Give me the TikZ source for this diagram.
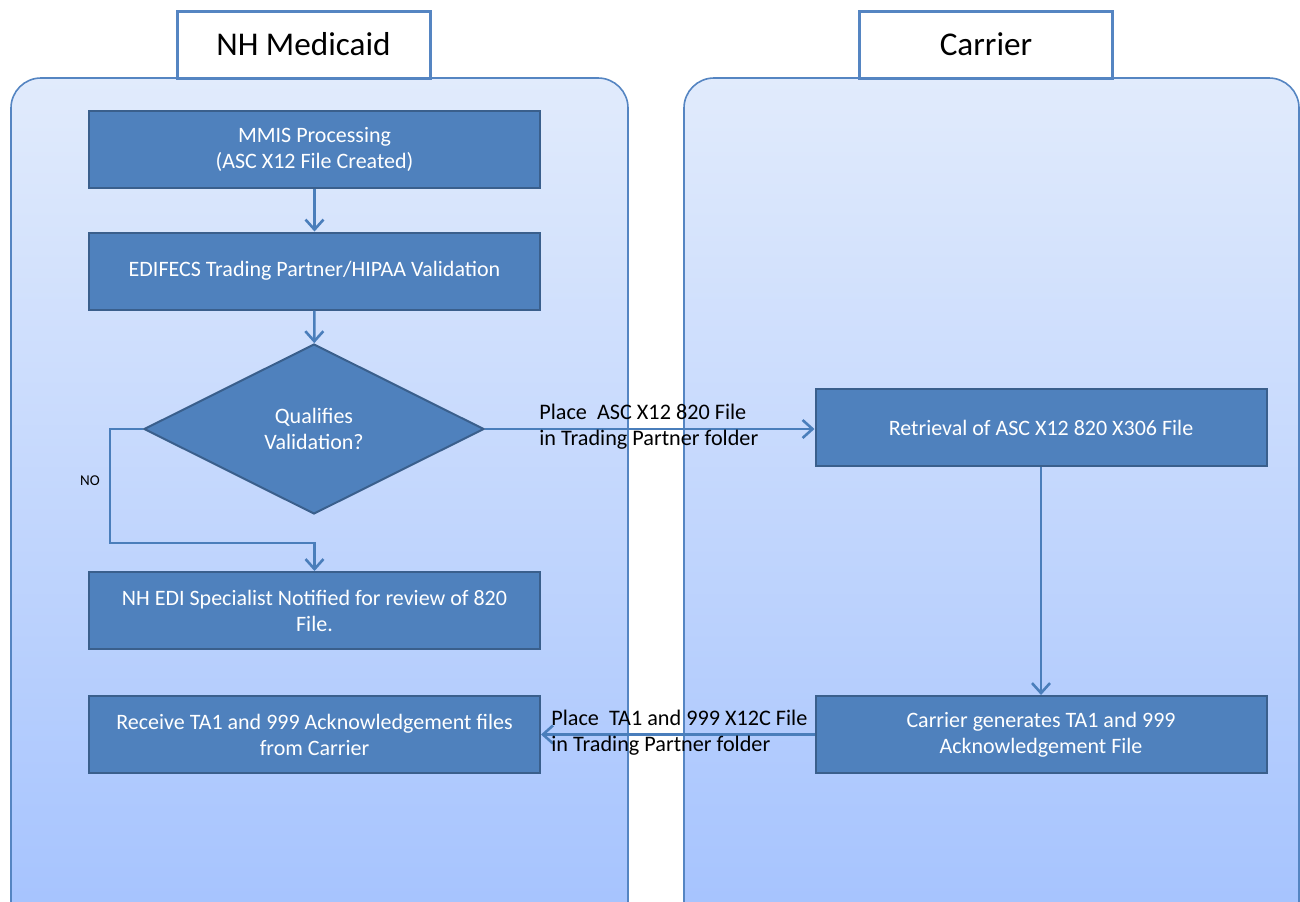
\documentclass[tikz,border=0pt]{standalone}
\usepackage{fontspec}
\setmainfont{Carlito}
\usetikzlibrary{arrows.meta,shapes.geometric}
\definecolor{boxfill}{HTML}{4F81BD}
\definecolor{boxline}{HTML}{3A5F8C}
\definecolor{arrowc}{HTML}{4A7EBB}
\definecolor{paneltop}{HTML}{E1EBFC}
\definecolor{panelbot}{HTML}{A4C2FE}
\definecolor{panelline}{HTML}{5585C2}
\begin{document}
\begin{tikzpicture}[x=0.5pt,y=-0.5pt,
  panel/.style={draw=panelline,line width=0.8pt,rounded corners=15pt,top color=paneltop,bottom color=panelbot},
  header/.style={draw=panelline,line width=1.5pt,fill=white,minimum width=126.5pt,minimum height=33.5pt,inner sep=0pt,font=\fontsize{16.6}{20}\selectfont},
  procbox/.style={draw=boxline,line width=1pt,fill=boxfill,text=white,minimum width=225.5pt,minimum height=38.5pt,inner sep=0pt,align=center,font=\fontsize{11}{13}\selectfont},
  decision/.style={diamond,draw=boxline,line width=1pt,fill=boxfill,text=white,minimum width=170pt,minimum height=85pt,aspect=2,inner sep=0pt,align=center,font=\fontsize{11}{13}\selectfont},
  flow/.style={draw=arrowc,line width=1.3pt,-{Straight Barb[length=5pt,width=9pt,line width=1.3pt]}},
  lbl/.style={inner sep=0pt,align=left,font=\fontsize{11.1}{13}\selectfont},
]
\useasboundingbox (0,0) rectangle (1300,901);
\begin{scope}
\clip (0,0) rectangle (1300,901);
\path[panel] (11,78) rectangle (628,940);
\path[panel] (684,78) rectangle (1299,940);
\end{scope}
\node[header] (hl) at (303.5,44.5) {NH Medicaid};
\node[header] (hr) at (986,44.5) {Carrier};

\node[procbox] (mmis) at (314.5,149.5) {MMIS Processing\\(ASC X12 File Created)};
\node[procbox] (edi) at (314.5,271) {EDIFECS Trading Partner/HIPAA Validation};
\node[decision] (dec) at (314,429) {Qualifies\\Validation?};
\node[procbox] (spec) at (314.5,610.5) {NH EDI Specialist Notified for review of 820\\File.};
\node[procbox] (recv) at (314.5,734.5) {Receive TA1 and 999 Acknowledgement files\\from Carrier};
\node[procbox] (retr) at (1041,427.5) {Retrieval of ASC X12 820 X306 File};
\node[procbox] (gen) at (1041,734.5) {Carrier generates TA1 and 999\\Acknowledgement File};

\coordinate (n1) at (110,429);
\coordinate (n2) at (110,543);
\coordinate (n3) at (314.5,543);

\draw[flow] (mmis) -- (edi);
\draw[flow] (edi) -- (dec);
\draw[flow] (dec.west) -- (n1) -- (n2) -- (n3) -- (spec.north);
\draw[flow] (dec.east) -- (dec.east -| retr.west);
\draw[flow] (retr) -- (gen);
\draw[flow] (gen.west) -- (recv.east);

\node[inner sep=0pt,font=\fontsize{7.5}{9}\selectfont] (no) at (90,481) {NO};
\node[lbl,anchor=west] (l1) at (539,427) {Place\ \ ASC X12 820 File\\in Trading Partner folder};
\node[lbl,anchor=west] (l2) at (551,733) {Place\ \ TA1 and 999 X12C File\\in Trading Partner folder};
\end{tikzpicture}
\end{document}
